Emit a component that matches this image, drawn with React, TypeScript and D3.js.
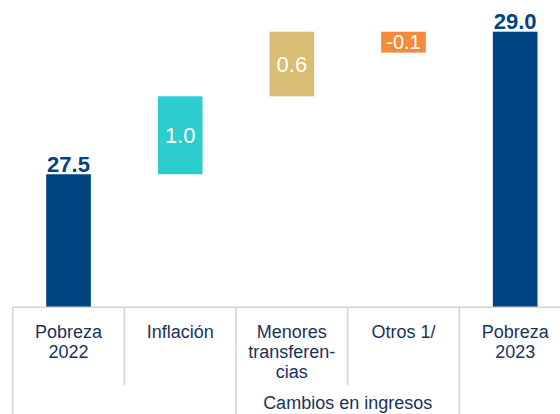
import { scaleBand, scaleLinear } from 'd3'

const categories = ['Pobreza 2022', 'Inflación', 'Menores transferencias', 'Otros 1/', 'Pobreza 2023']
const categoryLines = [['Pobreza', '2022'], ['Inflación'], ['Menores', 'transferen-', 'cias'], ['Otros 1/'], ['Pobreza', '2023']]
// bar extents (the source chart does not start at zero)
const barLow = [26.1, 27.5, 28.32, 28.78, 26.1]
const barHigh = [27.5, 28.32, 29.0, 29.0, 29.0]
const valueLabels = ['27.5', '1.0', '0.6', '-0.1', '29.0']
const barKinds = ['total', 'up', 'up', 'down', 'total']
const groups = [
  { label: '', first: 0, last: 1 },
  { label: 'Cambios en ingresos', first: 2, last: 3 },
  { label: '', first: 4, last: 4 },
]

const colors = ['#004481', '#2dcccd', '#d8be75', '#f7893b', '#004481']
const textColor = '#1b3258'
const lineColor = '#d4d4d4'

const W = 560
const H = 414
const baseY = 307.3

export default function App() {
  const x = scaleBand<string>().domain(categories).range([12.7, 571]).paddingInner(0).paddingOuter(0)
  const y = scaleLinear().domain([26.1, 29.0]).range([baseY, 31.7])
  const barW = x.bandwidth() * 0.4
  const font = '"Liberation Sans", Arial, sans-serif'

  return (
    <svg width={W} height={H} style={{ position: 'absolute', left: 0, top: 0 }} fontFamily={font}>
      {categories.map((c, i) => {
        const cx = (x(c) ?? 0) + x.bandwidth() / 2
        const y0 = y(barLow[i])
        const y1 = y(barHigh[i])
        const total = barKinds[i] == 'total'
        return (
          <g key={c}>
            <rect x={cx - barW / 2} y={y1} width={barW} height={y0 - y1} fill={colors[i]} />
            {total ? (
              <text x={cx} y={y1 - 2.5} textAnchor='middle' fontSize={22} fontWeight='bold' fill='#004481'>
                {valueLabels[i]}
              </text>
            ) : (
              <text x={cx} y={(y0 + y1) / 2} dy='0.36em' textAnchor='middle'
                fontSize={barKinds[i] == 'down' ? 20 : 22} fill='#ffffff'>
                {valueLabels[i]}
              </text>
            )}
          </g>
        )
      })}

      {/* category table */}
      <line x1={12.7} x2={W} y1={baseY} y2={baseY} stroke={lineColor} strokeWidth={1.6} />
      {categories.map((c, i) => {
        const left = x(c) ?? 0
        const fullLine = groups.some(g => g.first == i)
        return (
          <line key={'v' + c} x1={left} x2={left} y1={baseY} y2={fullLine ? H : 385}
            stroke={lineColor} strokeWidth={1.6} />
        )
      })}
      {categories.map((c, i) => {
        const cx = (x(c) ?? 0) + x.bandwidth() / 2
        return (
          <text key={'t' + c} textAnchor='middle' fontSize={18} fill={textColor}>
            {categoryLines[i].map((ln, j) => (
              <tspan key={j} x={cx} y={338 + j * 20}>{ln}</tspan>
            ))}
          </text>
        )
      })}
      {groups.map((g, i) => {
        const left = x(categories[g.first]) ?? 0
        const right = (x(categories[g.last]) ?? 0) + x.bandwidth()
        return (
          <text key={'g' + i} x={(left + right) / 2} y={409} textAnchor='middle' fontSize={18} fill={textColor}>
            {g.label}
          </text>
        )
      })}
    </svg>
  )
}
